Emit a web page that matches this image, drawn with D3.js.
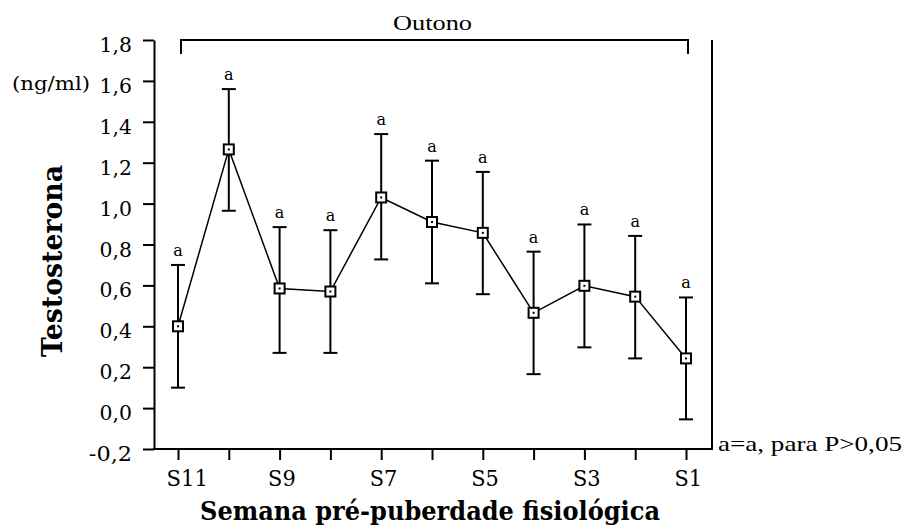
<!DOCTYPE html>
<html>
<head>
<meta charset="utf-8">
<script src="https://cdn.jsdelivr.net/npm/d3@7"></script>
<style>
  body { margin: 0; background: #fff; }
  svg { display: block; }
</style>
</head>
<body>
<svg width="903" height="530"></svg>
<script>
// semanas pre-puberdade, da S11 ate a S1
const weeks = ["S11", "S10", "S9", "S8", "S7", "S6", "S5", "S4", "S3", "S2", "S1"]
const meanT = [0.40, 1.265, 0.585, 0.57, 1.03, 0.91, 0.857, 0.466, 0.598, 0.545, 0.243]
const upperT = [0.70, 1.56, 0.885, 0.87, 1.34, 1.21, 1.155, 0.765, 0.898, 0.842, 0.541]
const lowerT = [0.10, 0.965, 0.27, 0.27, 0.727, 0.61, 0.557, 0.166, 0.297, 0.243, -0.055]
const sigLetters = ["a", "a", "a", "a", "a", "a", "a", "a", "a", "a", "a"]
const yTicks = [-0.2, 0, 0.2, 0.4, 0.6, 0.8, 1.0, 1.2, 1.4, 1.6, 1.8]
const xLabelWeeks = ["S11", "S9", "S7", "S5", "S3", "S1"]

const svg = d3.select("svg")
const serifFont = "'DejaVu Serif', 'Liberation Serif', serif"
const textFont = "'Liberation Serif', 'DejaVu Serif', serif"

const plotL = 154, plotR = 712, plotT = 40, plotB = 449

const x = d3.scalePoint().domain(weeks).range([178, 686])
const y = d3.scaleLinear().domain([-0.2, 1.8]).range([plotB, plotT])

const fmt = v => d3.format(".1f")(v).replace(".", ",").replace("−", "-")

// eixo y
const gy = svg.append("g")
    .attr("transform", `translate(${plotL},0)`)
    .call(d3.axisLeft(y).tickValues(yTicks).tickSize(11).tickSizeOuter(0).tickPadding(11).tickFormat(fmt))
gy.select(".domain").style("stroke", "#000").style("stroke-width", 2)
gy.selectAll(".tick line").style("stroke", "#000").style("stroke-width", 2)
gy.selectAll(".tick text")
    .attr("dy", "11.5")
    .attr("textLength", function () { return this.textContent.length * 10.8 })
    .attr("lengthAdjust", "spacingAndGlyphs")
    .style("font-family", serifFont)
    .style("font-size", "21px")
    .style("fill", "#000")

// eixo x
const gx = svg.append("g")
    .attr("transform", `translate(0,${plotB})`)
    .call(d3.axisBottom(x).tickSize(11).tickPadding(10)
        .tickFormat(d => xLabelWeeks.includes(d) ? d : ""))
gx.select(".domain").remove()
gx.selectAll(".tick line").style("stroke", "#000").style("stroke-width", 2)
gx.selectAll(".tick text")
    .attr("x", -12)
    .attr("text-anchor", "start")
    .attr("textLength", function () { return this.textContent.length * 13.8 || null })
    .attr("lengthAdjust", "spacingAndGlyphs")
    .style("font-family", serifFont)
    .style("font-size", "22px")
    .style("fill", "#000")

svg.append("line")
    .attr("x1", plotL - 1).attr("x2", plotR + 1)
    .attr("y1", plotB).attr("y2", plotB)
    .style("stroke", "#000").style("stroke-width", 2)

// borda direita
svg.append("line")
    .attr("x1", plotR).attr("x2", plotR)
    .attr("y1", plotT).attr("y2", plotB)
    .style("stroke", "#000").style("stroke-width", 2)

// chave "Outono"
const bx0 = x("S11") + 3, bx1 = x("S1") + 2
svg.append("path")
    .attr("d", `M${bx0},${plotT + 14}V${plotT}H${bx1}V${plotT + 14}`)
    .style("fill", "none").style("stroke", "#000").style("stroke-width", 2)
svg.append("text")
    .attr("x", 393).attr("y", 30)
    .attr("textLength", 79).attr("lengthAdjust", "spacingAndGlyphs")
    .style("font-family", textFont).style("font-size", "21px")
    .text("Outono")

const data = weeks.map((w, i) => ({ w, m: meanT[i], hi: upperT[i], lo: lowerT[i], s: sigLetters[i] }))

// barras de erro
const eb = svg.append("g").selectAll("g").data(data).join("g")
eb.append("line")
    .attr("x1", d => x(d.w)).attr("x2", d => x(d.w))
    .attr("y1", d => y(d.hi)).attr("y2", d => y(d.lo))
    .style("stroke", "#000").style("stroke-width", 2)
eb.selectAll("line.cap").data(d => [[d.w, d.hi], [d.w, d.lo]]).join("line")
    .attr("class", "cap")
    .attr("x1", d => x(d[0]) - 7).attr("x2", d => x(d[0]) + 7)
    .attr("y1", d => y(d[1])).attr("y2", d => y(d[1]))
    .style("stroke", "#000").style("stroke-width", 2)

// linha das medias
svg.append("path")
    .datum(data)
    .attr("d", d3.line().x(d => x(d.w)).y(d => y(d.m)))
    .style("fill", "none").style("stroke", "#000").style("stroke-width", 1.5)

// marcadores
svg.append("g").selectAll("rect").data(data).join("rect")
    .attr("x", d => x(d.w) - 5).attr("y", d => y(d.m) - 5)
    .attr("width", 10).attr("height", 10)
    .style("fill", "#fff").style("stroke", "#000").style("stroke-width", 2)
svg.append("g").selectAll("rect").data(data).join("rect")
    .attr("x", d => x(d.w) - 1).attr("y", d => y(d.m) - 1)
    .attr("width", 2).attr("height", 2)
    .style("fill", "#000")

// letras de significancia
svg.append("g").selectAll("text").data(data).join("text")
    .attr("x", d => x(d.w)).attr("y", d => y(d.hi) - 9)
    .attr("text-anchor", "middle")
    .style("font-family", serifFont).style("font-size", "16px")
    .text(d => d.s)

// unidade e titulos
svg.append("text")
    .attr("x", 12).attr("y", 90)
    .attr("textLength", 78).attr("lengthAdjust", "spacingAndGlyphs")
    .style("font-family", serifFont).style("font-size", "19px")
    .text("(ng/ml)")

svg.append("text")
    .attr("transform", "translate(62,261) rotate(-90)")
    .attr("text-anchor", "middle")
    .attr("textLength", 192).attr("lengthAdjust", "spacingAndGlyphs")
    .style("font-family", serifFont).style("font-size", "27px").style("font-weight", "bold")
    .text("Testosterona")

svg.append("text")
    .attr("x", 200).attr("y", 520)
    .attr("textLength", 460).attr("lengthAdjust", "spacingAndGlyphs")
    .style("font-family", serifFont).style("font-size", "26px").style("font-weight", "bold")
    .text("Semana pré-puberdade fisiológica")

svg.append("text")
    .attr("x", 718).attr("y", 451)
    .attr("textLength", 184).attr("lengthAdjust", "spacingAndGlyphs")
    .style("font-family", textFont).style("font-size", "21px")
    .text("a=a, para P>0,05")
</script>
</body>
</html>
